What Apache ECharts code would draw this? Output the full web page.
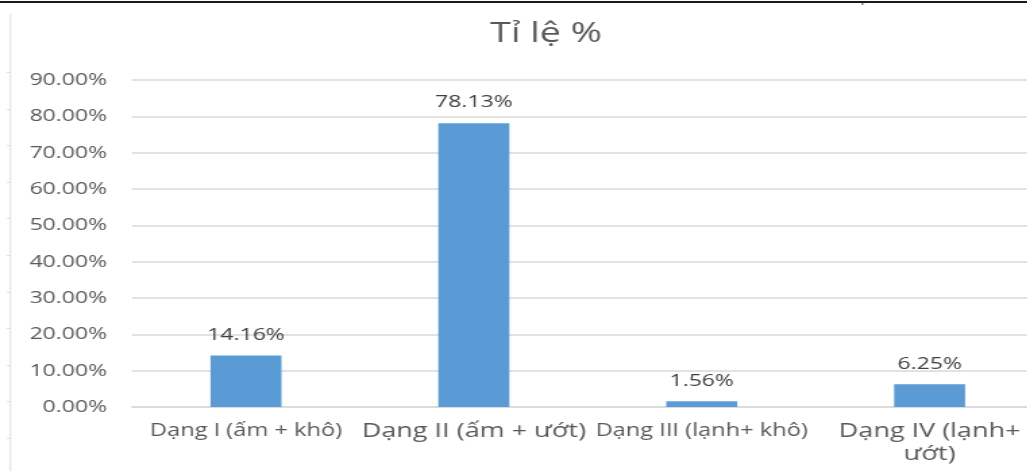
<!DOCTYPE html>
<html>
<head>
<meta charset="utf-8">
<script src="https://cdn.jsdelivr.net/npm/echarts@6/dist/echarts.min.js"></script>
<style>
  html, body { margin: 0; padding: 0; background: #ffffff; overflow: hidden; }
  /* chart is drawn at a narrower width and stretched horizontally */
  #chart { width: 761px; height: 471px; transform: scaleX(1.35); transform-origin: 0 0; }
</style>
</head>
<body>
<div id="chart"></div>
<script>
// Chart data
const chartTitle = 'Tỉ lệ %';
const categories = ['Dạng I (ấm + khô)', 'Dạng II (ấm + ướt)', 'Dạng III (lạnh+ khô)', 'Dạng IV (lạnh+\nướt)'];
const percentValues = [14.16, 78.13, 1.56, 6.25];
const yAxisMax = 90;
const yAxisStep = 10;

// Label size style per category
const categoryLabelStyle = ['small', 'large', 'small', 'large'];

const textGray = '#595959';
const fontFamily = '"Open Sans", "Noto Sans", sans-serif';

const chart = echarts.init(document.getElementById('chart'), null, { renderer: 'canvas' });

// Frame decorations: top rule and the faint left edge with its ticks
const frame = [
  { type: 'rect', shape: { x: 0, y: 1, width: 761, height: 2 }, style: { fill: '#1a1a1a' }, silent: true },
  { type: 'rect', shape: { x: 638.5, y: 2, width: 0.8, height: 3 }, style: { fill: '#1a1a1a' }, silent: true },
  { type: 'rect', shape: { x: 7.3, y: 14, width: 0.9, height: 457 }, style: { fill: '#dcdcdc' }, silent: true }
];
for (let y = 72; y < 471; y += 36.6) {
  frame.push({ type: 'rect', shape: { x: 5.2, y: Math.round(y), width: 2.2, height: 1 }, style: { fill: '#dcdcdc' }, silent: true });
}

chart.setOption({
  backgroundColor: '#ffffff',
  animation: false,
  title: {
    text: chartTitle,
    left: 358,
    top: 15,
    textStyle: { fontFamily, fontSize: 28, fontWeight: 'normal', color: textGray }
  },
  graphic: frame,
  // plot area runs past the right edge of the page
  grid: { left: 97.8, right: -12, top: 80, bottom: 64, containLabel: false, outerBoundsMode: 'none' },
  xAxis: {
    type: 'category',
    data: categories,
    axisLine: { show: true, lineStyle: { color: '#d9d9d9', width: 1.5 } },
    axisTick: { show: false },
    axisLabel: {
      interval: 0,
      margin: 13,
      formatter: function (value, index) {
        const key = categoryLabelStyle[index];
        return value.split('\n').map(function (line) { return '{' + key + '|' + line + '}'; }).join('\n');
      },
      rich: {
        small: { fontFamily, fontSize: 17.5, color: textGray, lineHeight: 23 },
        large: { fontFamily, fontSize: 20, color: textGray, lineHeight: 23 }
      }
    }
  },
  yAxis: {
    type: 'value',
    min: 0,
    max: yAxisMax,
    interval: yAxisStep,
    axisLine: { show: false },
    axisTick: { show: false },
    splitLine: { show: true, lineStyle: { color: '#d9d9d9', width: 1.5 } },
    axisLabel: {
      margin: 18.5,
      fontFamily,
      fontSize: 17,
      color: textGray,
      formatter: function (v) { return v.toFixed(2) + '%'; }
    }
  },
  series: [{
    type: 'bar',
    data: percentValues,
    barWidth: 52.6,
    itemStyle: { color: '#5b9bd5' },
    label: {
      show: true,
      position: 'top',
      distance: 12,
      fontFamily,
      fontSize: 17,
      color: '#404040',
      formatter: function (p) { return p.value.toFixed(2) + '%'; }
    }
  }]
});
</script>
</body>
</html>
